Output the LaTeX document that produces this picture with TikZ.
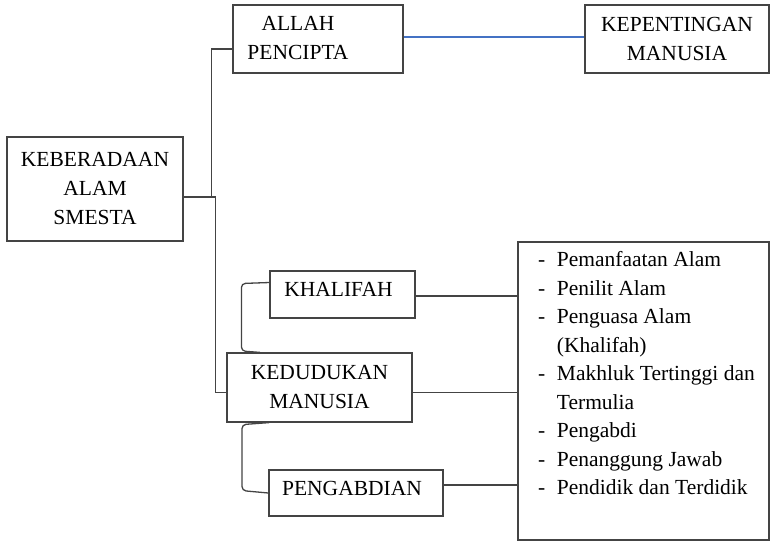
\documentclass[tikz,border=0pt]{standalone}
\usepackage{fontspec}
\setmainfont{Liberation Serif}
\definecolor{linegray}{HTML}{444444}
\definecolor{lineblue}{HTML}{4472C4}
\begin{document}
\begin{tikzpicture}[x=1pt,y=-1pt,
  box/.style={draw=linegray, line width=1.2pt, rectangle, inner sep=0pt, align=center,
    font=\fontsize{21.5}{29}\selectfont},
  single/.style={text height=14pt, text depth=10pt},
  conn/.style={draw=linegray, line width=1.3pt},
  txt/.style={inner sep=0pt, font=\fontsize{21.5}{28.5}\selectfont}]
\useasboundingbox (0,0) rectangle (770,549);
\node[box, minimum width=176pt, minimum height=104pt] (keb) at (95,189) {KEBERADAAN\\ALAM\\SMESTA};
\node[box, minimum width=170pt, minimum height=68pt] (allah) at (318,39) {\begin{tabular}{@{}c@{}}ALLAH\\PENCIPTA\end{tabular}\hspace*{40pt}};
\node[box, minimum width=184pt, minimum height=68pt] (kep) at (677,39) {KEPENTINGAN\\MANUSIA};
\node[box, single, minimum width=145pt, minimum height=47pt] (kha) at (342.5,294.5) {\hspace*{-8pt}KHALIFAH};
\node[box, minimum width=185pt, minimum height=69pt] (ked) at (319.5,387.5) {KEDUDUKAN\\MANUSIA};
\node[box, single, minimum width=174pt, minimum height=46pt] (png) at (356,493) {\hspace*{-8pt}PENGABDIAN};
\node[box, minimum width=251pt, minimum height=298pt] (list) at (643.5,391) {};
\node[txt, anchor=base west] (listtext) at (538,266.7) {\begin{tabular}[t]{@{}p{18.7pt}@{}l@{}}
-&Pemanfaatan Alam\\
-&Penilit Alam\\
-&Penguasa Alam\\
&(Khalifah)\\
-&Makhluk Tertinggi dan\\
&Termulia\\
-&Pengabdi\\
-&Penanggung Jawab\\
-&Pendidik dan Terdidik
\end{tabular}};
% connectors from KEBERADAAN
\draw[conn] ([yshift=-8pt]keb.east) -- ++(32,0) |- ([yshift=-5pt]ked.west);
\draw[conn] ([xshift=28pt,yshift=-8pt]keb.east) |- ([yshift=-10pt]allah.west);
\draw[draw=lineblue, line width=1.3pt] ([yshift=2pt]allah.east) -- ([yshift=2pt]kep.west);
% brackets
\draw[conn, rounded corners=4pt] ([yshift=12pt]kha.west) -- ++(-28,1) -- ++(0,67.5) -- ([xshift=-59.5pt]ked.north);
\draw[conn, rounded corners=4pt] ([xshift=-50.5pt]ked.south) -- ++(-27,2) -- ++(0,66) -- (png.west);
% to list
\draw[conn] ([yshift=-1.5pt]kha.east) -- ([yshift=-1.5pt]kha.east -| list.west);
\draw[conn] ([yshift=-5pt]ked.east) -- ([yshift=-5pt]ked.east -| list.west);
\draw[conn] ([yshift=8pt]png.east) -- ([yshift=8pt]png.east -| list.west);
\end{tikzpicture}
\end{document}
